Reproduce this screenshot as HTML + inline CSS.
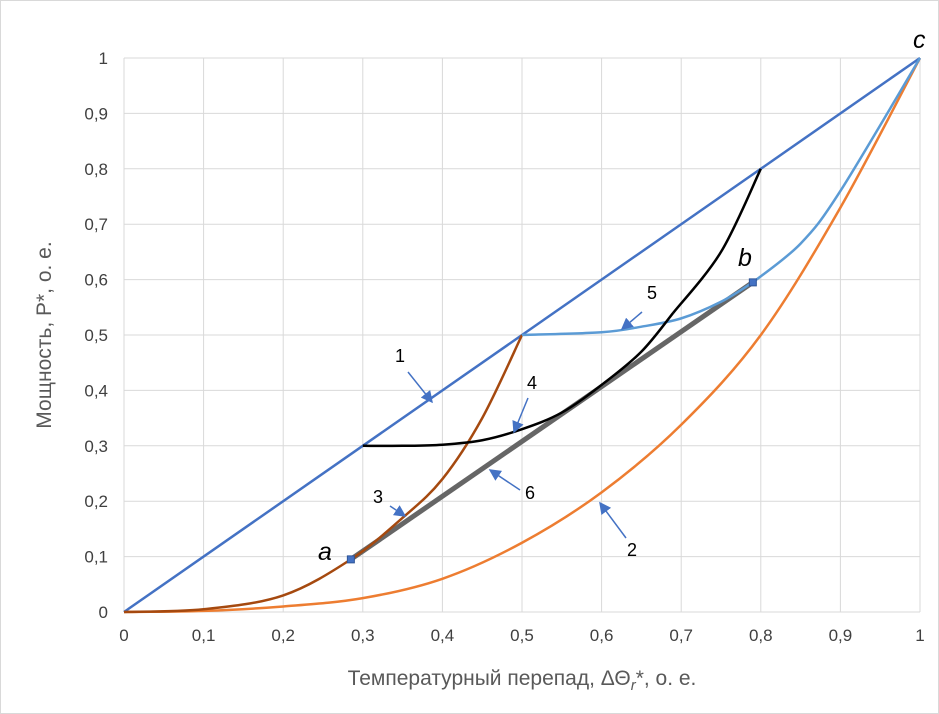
<!DOCTYPE html>
<html><head><meta charset="utf-8"><style>
body{margin:0;background:#fff}
svg{display:block;font-family:"Liberation Sans",sans-serif}
</style></head><body>
<svg id="chart" width="939" height="714" viewBox="0 0 939 714">
<rect x="0.5" y="0.5" width="938" height="713" fill="#fff" stroke="#d9d9d9"/>
<g id="grid"></g>
<g id="ticks"></g>
<g id="series"></g>
<g id="ann"></g>
<text x="522" y="685" text-anchor="middle" font-size="21" fill="#595959">Температурный перепад, ΔΘ<tspan font-style="italic" font-size="15" dy="5">r</tspan><tspan dy="-5">*, о. е.</tspan></text>
<text transform="translate(51,335) rotate(-90)" text-anchor="middle" font-size="21" fill="#595959">Мощность, P*, о. е.</text>
</svg>
<script>
const ticksX=[0,0.1,0.2,0.3,0.4,0.5,0.6,0.7,0.8,0.9,1];
const ticksY=[0,0.1,0.2,0.3,0.4,0.5,0.6,0.7,0.8,0.9,1];
const s1x=[0,1], s1y=[0,1];
const s2x=[0,0.1,0.2,0.3,0.4,0.5,0.6,0.7,0.8,0.9,1];
const s2y=[0,0.002,0.01,0.025,0.06,0.125,0.216,0.338,0.5,0.73,1];
const s3x=[0,0.1,0.2,0.285,0.35,0.4,0.45,0.5];
const s3y=[0,0.005,0.03,0.095,0.17,0.24,0.35,0.5];
const s4x=[0.3,0.35,0.4,0.45,0.5,0.55,0.6,0.65,0.69];
const s4y=[0.3,0.3,0.302,0.31,0.33,0.36,0.41,0.47,0.54];
const s4bx=[0.69,0.75,0.8];
const s4by=[0.54,0.65,0.8];
const s5x=[0.5,0.6,0.65,0.7,0.75,0.79];
const s5y=[0.5,0.505,0.515,0.53,0.56,0.595];
const s5bx=[0.79,0.85,0.9,1];
const s5by=[0.595,0.665,0.76,1];
const s6x=[0.285,0.79], s6y=[0.095,0.595];
const labels=["1","2","3","4","5","6"];
const NS="http://www.w3.org/2000/svg";
const X=v=>124+v*796, Y=v=>612-v*554;
function mk(t,a,p){const e=document.createElementNS(NS,t);for(const k in a)e.setAttribute(k,a[k]);document.getElementById(p).appendChild(e);return e;}
ticksX.forEach(v=>{const l=mk('line',{x1:X(v),x2:X(v),y1:Y(0),y2:Y(1),stroke:'#d9d9d9'},'grid');


const t=mk('text',{x:X(v),y:641,'text-anchor':'middle','font-size':17,fill:'#404040'},'ticks');t.textContent=String(v).replace('.',',');

});
ticksY.forEach(v=>{const l=mk('line',{x1:X(0),x2:X(1),y1:Y(v),y2:Y(v),stroke:'#d9d9d9'},'grid');


const t=mk('text',{x:108,y:Y(v)+6,'text-anchor':'end','font-size':17,fill:'#404040'},'ticks');t.textContent=String(v).replace('.',',');

});
function line(xs,ys,c,w,name,smooth){let d='';
if(!smooth||xs.length<3){d=xs.map((x,i)=>(i?'L':'M')+X(x)+','+Y(ys[i])).join('');}
else{const P=xs.map((x,i)=>[X(x),Y(ys[i])]);d='M'+P[0];for(let i=0;i<P.length-1;i++){const p0=P[i-1]||P[i],p1=P[i],p2=P[i+1],p3=P[i+2]||p2;
d+='C'+(p1[0]+(p2[0]-p0[0])/6)+','+(p1[1]+(p2[1]-p0[1])/6)+' '+(p2[0]-(p3[0]-p1[0])/6)+','+(p2[1]-(p3[1]-p1[1])/6)+' '+p2[0]+','+p2[1];}}
const e=mk('path',{d:d,fill:'none',stroke:c,'stroke-width':w,'stroke-linejoin':'round'},'series');

}
line(s2x,s2y,'#ED7D31',2.5,'curve-2',true);
line(s1x,s1y,'#4472C4',2.5,'line-1',false);
line(s6x,s6y,'#666666',5,'line-6',false);
line(s3x,s3y,'#A5490F',2.5,'curve-3',true);
line(s5x,s5y,'#5B9BD5',2.5,'curve-5',true);
line(s5bx,s5by,'#5B9BD5',2.5,'curve-5-upper',true);
line(s4x,s4y,'#000000',2.5,'curve-4',true);
line(s4bx,s4by,'#000000',2.5,'curve-4-upper',true);
[[s6x[0],s6y[0],'marker-a'],[s6x[1],s6y[1],'marker-b']].forEach(m=>{const r=mk('rect',{x:X(m[0])-3.5,y:Y(m[1])-3.5,width:7,height:7,fill:'#4472C4',stroke:'#2F5597'},'series');

});
const pts=[['a',318,560],['b',738,266],['c',913,48]];
pts.forEach(p=>{const t=mk('text',{x:p[1],y:p[2],'font-size':25,'font-style':'italic',fill:'#000'},'ann');t.textContent=p[0];

});
mk('defs',{},'ann').innerHTML='<marker id="ar" markerWidth="8" markerHeight="8" refX="7" refY="4" orient="auto"><path d="M0,0L8,4L0,8z" fill="#4472C4"/></marker>';
const callouts=[[400,362,408,372,432,402],[632,556,626,538,600,503],[378,503,390,506,405,516],[532,389,528,398,514,432],[652,299,642,312,622,329],[530,499,520,490,490,470]];
callouts.forEach((c,i)=>{const t=mk('text',{x:c[0],y:c[1],'text-anchor':'middle','font-size':18,fill:'#000'},'ann');t.textContent=labels[i];


const l=mk('line',{x1:c[2],y1:c[3],x2:c[4],y2:c[5],stroke:'#4472C4','stroke-width':1.5,'marker-end':'url(#ar)'},'ann');

});
</script>
</body></html>
